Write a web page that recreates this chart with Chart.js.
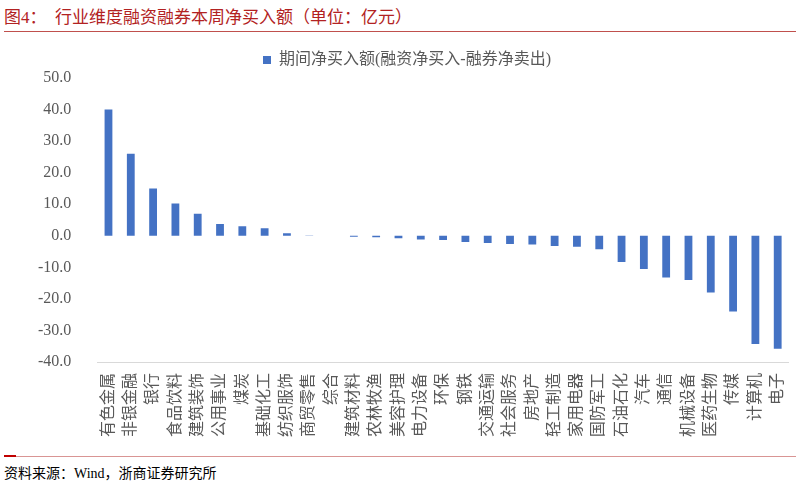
<!DOCTYPE html>
<html><head><meta charset="utf-8">
<script src="https://cdn.jsdelivr.net/npm/chart.js@4"></script>
<style>
body{margin:0;width:802px;height:486px;background:#fff;position:relative;overflow:hidden;font-family:"Liberation Serif","Noto Sans CJK SC",serif}
#title{position:absolute;left:4px;top:3px;font-size:17px;color:#B22222}
#l1{position:absolute;left:4px;right:6px;top:31px;border-top:1px solid #C0504D}
#l2{position:absolute;left:4px;right:6px;top:456px;border-top:1px solid #D99594}
#l2b{position:absolute;left:4px;width:12px;top:455px;border-top:2px solid #C00000}
#src{position:absolute;left:4px;top:462px;font-size:14px;color:#000}
#wrap{position:absolute;left:20px;top:38px;width:780px;height:414px}
</style></head><body>
<div id="title">图4：&nbsp;&nbsp;行业维度融资融券本周净买入额（单位：亿元）</div>
<div id="l1"></div><div id="l2"></div><div id="l2b"></div>
<div id="src">资料来源：Wind，浙商证券研究所</div>
<div id="wrap"><canvas id="c"></canvas></div>
<script>
const categories=["有色金属","非银金融","银行","食品饮料","建筑装饰","公用事业","煤炭","基础化工","纺织服饰","商贸零售","综合","建筑材料","农林牧渔","美容护理","电力设备","环保","钢铁","交通运输","社会服务","房地产","轻工制造","家用电器","国防军工","石油石化","汽车","通信","机械设备","医药生物","传媒","计算机","电子"];
const values=[40,26,15,10.2,7,3.7,3,2.4,0.8,0.05,0,-0.3,-0.5,-0.8,-1.2,-1.3,-2.0,-2.3,-2.6,-2.8,-3.2,-3.5,-4.3,-8.3,-10.5,-13.2,-14,-18,-24,-34.3,-35.8];
const seriesName="期间净买入额(融资净买入-融券净卖出)";
const font={family:'"Liberation Serif","Noto Sans CJK SC",serif',size:16};
new Chart(document.getElementById('c'),{type:'bar',
data:{labels:categories,datasets:[{label:seriesName,data:values,backgroundColor:'#4472C4',barPercentage:0.35,categoryPercentage:1}]},
options:{responsive:true,maintainAspectRatio:false,animation:false,
layout:{padding:{right:6,left:0}},
plugins:{legend:{labels:{boxWidth:8,boxHeight:8,color:'#595959',font:font,padding:14}},tooltip:{enabled:false}},
scales:{
x:{grid:{display:false},border:{color:'#D9D9D9'},ticks:{color:'#595959',font:{...font,size:16},minRotation:90,maxRotation:90,autoSkip:false},afterFit:s=>{s.height=90;}},
y:{min:-40,max:50,ticks:{stepSize:10,color:'#595959',font:font,callback:v=>v.toFixed(1),padding:18},grid:{display:false},border:{display:false}}
}}});
</script></body></html>
